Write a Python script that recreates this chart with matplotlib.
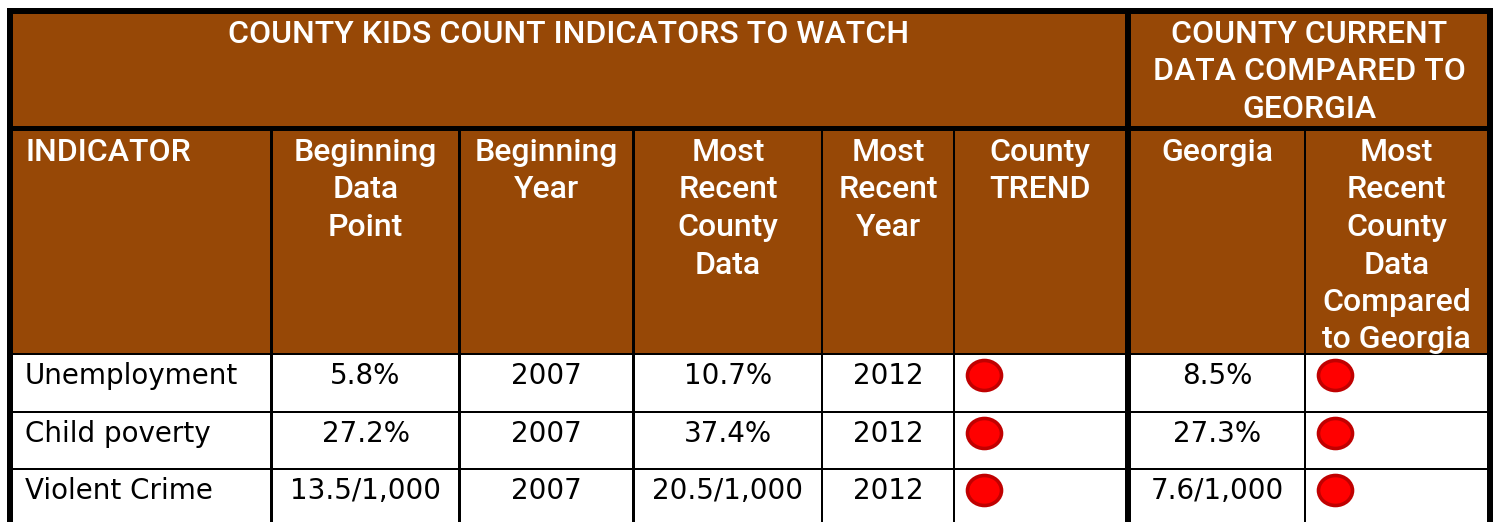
import matplotlib
matplotlib.use('Agg')
import matplotlib.pyplot as plt
from matplotlib.patches import Rectangle, Ellipse

###############################################################################
# Data
###############################################################################
titleLeft = 'COUNTY KIDS COUNT INDICATORS TO WATCH'
titleRight = ['COUNTY CURRENT', 'DATA COMPARED TO', 'GEORGIA']
headers = [
    ['INDICATOR'],
    ['Beginning', 'Data', 'Point'],
    ['Beginning', 'Year'],
    ['Most', 'Recent', 'County', 'Data'],
    ['Most', 'Recent', 'Year'],
    ['County', 'TREND'],
    ['Georgia'],
    ['Most', 'Recent', 'County', 'Data', 'Compared', 'to Georgia']
]
indicators = ['Unemployment', 'Child poverty', 'Violent Crime']
beginPoint = ['5.8%', '27.2%', '13.5/1,000']
beginYear = ['2007', '2007', '2007']
recentData = ['10.7%', '37.4%', '20.5/1,000']
recentYear = ['2012', '2012', '2012']
trend = ['red', 'red', 'red']
georgia = ['8.5%', '27.3%', '7.6/1,000']
compared = ['red', 'red', 'red']

###############################################################################
# Layout (pixel grid of the table)
###############################################################################
(W, H, DPI) = (1497, 522, 100)
BROWN = '#974806'
cols = [
    (13, 270), (273, 458), (461, 632), (635, 821),
    (823, 953), (955, 1125), (1131, 1304), (1306, 1487)
]
titleRow = (14, 126)
headRow = (131, 353)
dataRows = [(355, 411), (413, 468), (470, 530)]
dotColor = {'red': ('#ff0000', '#c00000')}
(hFont, bFont) = (['Roboto', 'DejaVu Sans'], ['DejaVu Sans'])
(hSize, hWeight, bSize, lineH) = (23, 'medium', 20, 37.5)

###############################################################################
# Plot
###############################################################################
fig = plt.figure(figsize=(W/DPI, H/DPI), dpi=DPI)
ax = fig.add_axes([0, 0, 1, 1])
ax.set_xlim(0, W)
ax.set_ylim(H, 0)
ax.axis('off')

def cell(x0, x1, y0, y1, color):
    ax.add_patch(Rectangle((x0, y0), x1-x0, y1-y0, color=color, lw=0))

def head(x, y, s, ha='center'):
    ax.text(
        x, y, s, ha=ha, va='baseline', color='white',
        fontsize=hSize, family=hFont, weight=hWeight
    )

def body(x, y, s, ha='center'):
    ax.text(
        x, y, s, ha=ha, va='baseline', color='black',
        fontsize=bSize, family=bFont
    )

# Black frame behind all cells, lines show through the gaps
cell(7, 1493, 8, H, 'black')
# Title row -------------------------------------------------------------------
cell(cols[0][0], cols[5][1], titleRow[0], titleRow[1], BROWN)
cell(cols[6][0], cols[7][1], titleRow[0], titleRow[1], BROWN)
head((cols[0][0]+cols[5][1])/2, titleRow[0]+29, titleLeft)
for (j, line) in enumerate(titleRight):
    head((cols[6][0]+cols[7][1])/2, titleRow[0]+29+j*lineH, line)
# Header row ------------------------------------------------------------------
for (i, (x0, x1)) in enumerate(cols):
    cell(x0, x1, headRow[0], headRow[1], BROWN)
    for (j, line) in enumerate(headers[i]):
        y = headRow[0]+30+j*lineH
        if i == 0:
            head(x0+12, y, line, ha='left')
        else:
            head((x0+x1)/2, y, line)
# Data rows -------------------------------------------------------------------
values = [beginPoint, beginYear, recentData, recentYear]
for (r, (y0, y1)) in enumerate(dataRows):
    for (x0, x1) in cols:
        cell(x0, x1, y0, y1, 'white')
    body(cols[0][0]+12, y0+29, indicators[r], ha='left')
    for (k, col) in enumerate(values):
        (x0, x1) = cols[k+1]
        body((x0+x1)/2, y0+29, col[r])
    body((cols[6][0]+cols[6][1])/2, y0+29, georgia[r])
    for (c, status) in ((5, trend[r]), (7, compared[r])):
        (fc, ec) = dotColor[status]
        ax.add_patch(Ellipse(
            (cols[c][0]+29.5, y0+20.5), 34, 30,
            facecolor=fc, edgecolor=ec, lw=2.6
        ))
fig.savefig('out.png', dpi=DPI)
plt.close('all')
